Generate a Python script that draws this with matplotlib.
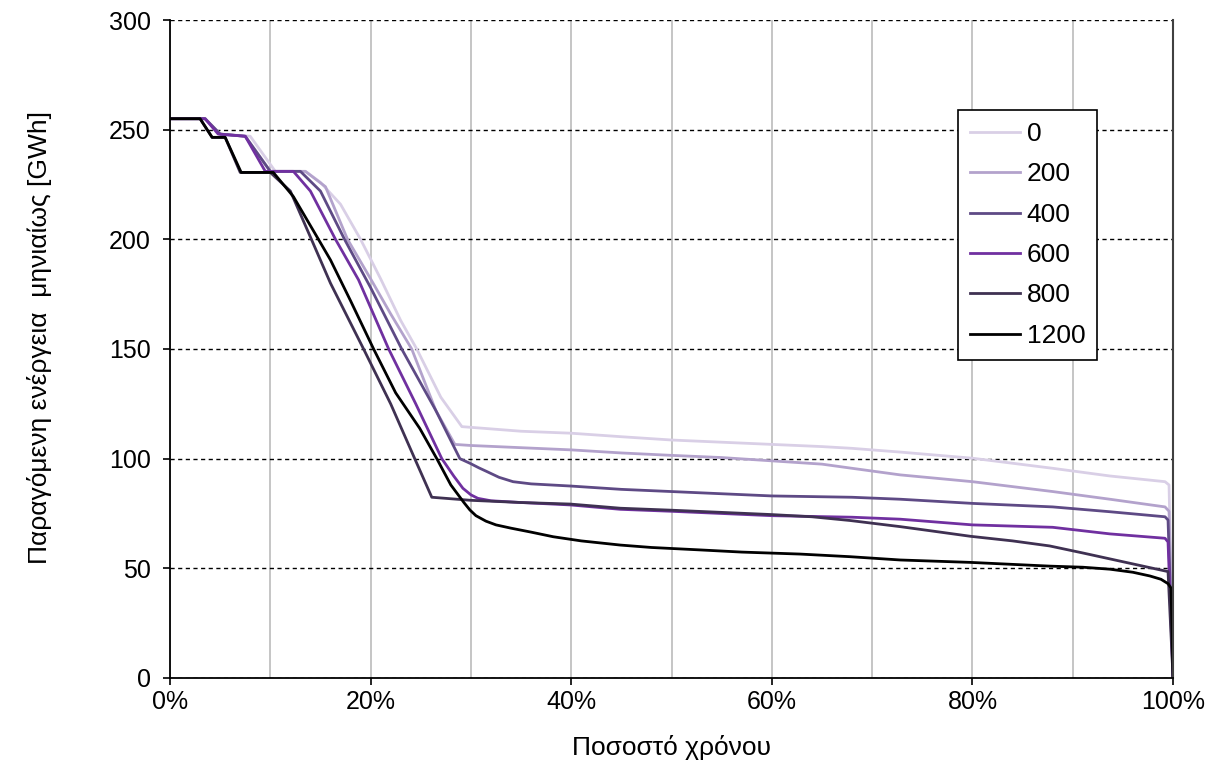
import numpy as np
import matplotlib.pyplot as plt

plt.rcParams['font.family'] = ['Liberation Sans', 'DejaVu Sans']

# Ποσοστό χρόνου (%) και παραγόμενη ενέργεια (GWh) για κάθε σενάριο
x_0 = [0, 3.5, 5, 8, 10.5, 13.5, 15, 17, 19, 21, 23, 24.6, 27, 29.1, 35, 40, 45, 50, 55, 60, 65, 68, 72.8, 80, 88, 93.7, 99.2, 99.6, 100]
y_0 = [255, 255, 248, 247, 231, 231, 226, 216, 200, 182, 163, 150, 128, 114.6, 112.5, 111.6, 110, 108.5, 107.5, 106.5, 105.5, 104.7, 103, 100.2, 95.6, 92.1, 89.5, 88, 0]

x_200 = [0, 3.5, 5, 7.5, 10, 13.5, 15.5, 17.7, 20, 22, 24.1, 26.5, 28.4, 30, 35, 40, 45, 50, 55, 60, 65, 68, 72.8, 80, 88, 93.7, 99.2, 99.6, 100]
y_200 = [255, 255, 248, 247, 231, 231, 224, 200, 182, 166, 150, 122, 106.5, 106, 105, 104, 102.6, 101.5, 100.5, 99, 97.5, 95.6, 92.6, 89.5, 85, 81.5, 78, 76, 0]

x_400 = [0, 3.5, 5, 7.5, 10, 13, 15, 17.4, 20, 23.1, 26.5, 28.9, 29.9, 30.8, 31.6, 32.8, 34.2, 36, 40, 45, 50, 55, 60, 68, 72.8, 80, 88, 93.7, 99.2, 99.5, 100]
y_400 = [255, 255, 248, 247, 231, 231, 222, 200, 178, 150, 122, 100, 97.9, 95.8, 94.1, 91.5, 89.5, 88.5, 87.5, 86, 85, 84, 83, 82.4, 81.5, 79.6, 78, 75.8, 73.5, 72, 0]

x_600 = [0, 3.5, 4.8, 7.5, 9.5, 12.3, 14, 16.5, 18.8, 21.8, 24.5, 27.1, 28.3, 29.2, 30, 30.7, 32, 35, 39.9, 44.9, 50, 55, 60, 68, 72.8, 80, 88, 93.7, 99.2, 99.5, 100]
y_600 = [255, 255, 248, 247, 231, 231, 222, 200, 181.5, 150, 125, 100, 92, 86.5, 83.5, 81.9, 80.8, 80, 78.9, 76.9, 76, 75, 74, 73.3, 72.4, 69.8, 68.7, 65.7, 63.7, 62, 0]

x_800 = [0, 3, 4.2, 5.5, 7, 10, 12, 14.1, 16, 19.3, 22, 24.4, 26.1, 30, 35, 39.9, 44.9, 50, 55, 60, 64, 67.8, 72.8, 76, 79.8, 84, 87.7, 91, 93.7, 96.5, 99.5, 100]
y_800 = [255, 255, 246.5, 246.5, 230.5, 230.5, 222, 200, 180, 150, 125, 100, 82.4, 81, 80, 79.3, 77.4, 76.5, 75.5, 74.5, 73.5, 71.8, 69, 67, 64.6, 62.5, 60.2, 57, 54.3, 51.5, 48.5, 0]

x_1200 = [0, 3, 4.2, 5.5, 7.1, 10.3, 12.3, 14.8, 16, 18, 20.3, 22.5, 24.9, 26.6, 28, 29.3, 29.9, 30.5, 31.5, 32.5, 34, 36, 38.2, 41, 44.9, 48, 52.8, 57, 62.8, 67.8, 72.8, 79.8, 87.7, 91, 93.7, 96, 97.7, 98.8, 99.5, 99.8, 100]
y_1200 = [255, 255, 246.5, 246.5, 230.5, 230.5, 219.5, 200, 190.6, 172, 150, 130, 113.8, 100, 88, 80, 76.6, 74, 71.5, 69.8, 68.3, 66.5, 64.4, 62.5, 60.6, 59.5, 58.4, 57.4, 56.5, 55.3, 53.8, 52.7, 51, 50.5, 49.6, 48.2, 46.5, 45, 43, 41, 0]

series = [
    ("0", x_0, y_0, "#d9cfe6"),
    ("200", x_200, y_200, "#b3a2cc"),
    ("400", x_400, y_400, "#5e4a85"),
    ("600", x_600, y_600, "#7030a0"),
    ("800", x_800, y_800, "#3f3152"),
    ("1200", x_1200, y_1200, "#000000"),
]

fig = plt.figure(figsize=(12.3, 7.64), dpi=100)
ax = fig.add_axes([0.1382, 0.1126, 0.8155, 0.8612])

for label, xs, ys, color in series:
    ax.plot(np.array(xs) / 100, ys, color=color, lw=2.0, label=label,
            solid_joinstyle="round")

ax.set_xlim(0, 1)
ax.set_ylim(0, 300)
ax.set_xticks(np.arange(0, 1.01, 0.2))
ax.set_xticks(np.arange(0, 1.01, 0.1), minor=True)
ax.set_xticklabels([f"{int(v)}%" for v in np.arange(0, 101, 20)])
ax.set_yticks(np.arange(0, 301, 50))

ax.grid(axis="x", which="both", color="#c0c0c0", lw=1.3, ls="-")
ax.grid(axis="y", which="major", color="black", lw=1.0, ls=(0, (3, 2.5)))
ax.set_axisbelow(True)

ax.tick_params(axis="both", which="major", direction="out", length=5, width=1.2, labelsize=18)
ax.tick_params(axis="y", pad=9)
ax.tick_params(axis="x", pad=4)
ax.tick_params(axis="x", which="minor", length=0)

ax.spines["top"].set_visible(False)
ax.spines["right"].set_color("#404040")
ax.spines["right"].set_linewidth(1.5)
ax.spines["left"].set_linewidth(1.3)
ax.spines["bottom"].set_linewidth(1.3)

ax.set_xlabel("Ποσοστό χρόνου", fontsize=19, labelpad=15)
ax.set_ylabel("Παραγόμενη ενέργεια  μηνιαίως [GWh]", fontsize=19)
ax.yaxis.set_label_coords(-0.118, 0.518)

leg = ax.legend(loc="upper left", bbox_to_anchor=(0.7856, 0.863), borderaxespad=0,
                fontsize=19, handlelength=1.9, handletextpad=0.26, labelspacing=0.62,
                fancybox=False, framealpha=1, edgecolor="black", borderpad=0.45)
leg.get_frame().set_linewidth(1.2)

plt.savefig("out.png", dpi=100)
plt.close()
